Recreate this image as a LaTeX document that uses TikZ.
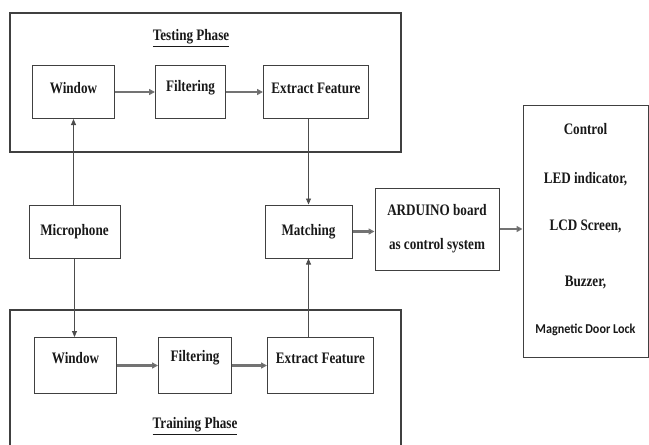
\documentclass[tikz,border=0pt]{standalone}
\usepackage{fontspec}
\newfontfamily\diagfont{Liberation Serif}[FakeStretch=0.82, BoldFont={Liberation Serif Bold}, BoldFeatures={FakeStretch=0.82}]
\newfontfamily\lockfont{Carlito}[FakeStretch=0.9]
\usetikzlibrary{arrows.meta}
\begin{document}
\begin{tikzpicture}[x=1pt,y=-1pt,
  every node/.style={font=\diagfont\bfseries\fontsize{16}{19}\selectfont, text=black!90},
  blk/.style={draw=black!75, line width=1pt, fill=white, inner sep=0pt, align=center},
  phase/.style={draw=black!75, line width=1.3pt},
  flow/.style={draw=black!55, line width=2.2pt, -{Triangle[length=6pt,width=6pt,fill=black!85]}},
  link/.style={draw=black!70, line width=0.8pt, -{Triangle[length=6pt,width=5pt]}},
  lockstyle/.style={font=\lockfont\bfseries\fontsize{13.5}{16}\selectfont}]
\useasboundingbox (0,0) rectangle (649,445);
% phase frames
\draw[phase] (10,13) rectangle (401,152);
\draw[phase] (10,310) rectangle (401,452);
\node (tp) at (191,38) {\underline{Testing Phase}};
\node (trp) at (195,426) {\underline{Training Phase}};
% testing row
\node[blk, minimum width=82pt, minimum height=53pt, anchor=north west] (w1) at (32,65) {};
\node at ([yshift=-23pt]w1.north) {Window};
\node[blk, minimum width=70pt, minimum height=53pt, anchor=north west] (f1) at (155,65) {};
\node at ([yshift=-23pt]f1.north) {Filtering};
\node[blk, minimum width=105pt, minimum height=53pt, anchor=north west] (e1) at (263,65) {};
\node at ([yshift=-23pt]e1.north) {Extract Feature};
% training row
\node[blk, minimum width=82pt, minimum height=56pt, anchor=north west] (w2) at (34,337) {};
\node at ([yshift=-21pt]w2.north) {Window};
\node[blk, minimum width=73pt, minimum height=56pt, anchor=north west] (f2) at (158,337) {};
\node at ([yshift=-21pt]f2.north) {Filtering};
\node[blk, minimum width=106pt, minimum height=56pt, anchor=north west] (e2) at (267,337) {};
\node at ([yshift=-21pt]e2.north) {Extract Feature};
% middle
\node[blk, minimum width=91pt, minimum height=53pt] (mic) at (74.5,231.5) {Microphone};
\node[blk, minimum width=87pt, minimum height=53pt] (mat) at (308.5,231.5) {Matching};
\node[blk, minimum width=124pt, minimum height=82pt] (ard) at (437,229) {ARDUINO board\\[15pt]as control system};
\node[blk, minimum width=125pt, minimum height=252pt] (ctl) at (585.5,231) {};
\node (c0) at ([yshift=-25pt]ctl.north) {Control};
\node (c1) at ([yshift=-75pt]ctl.north) {LED indicator,};
\node (c2) at ([yshift=-122pt]ctl.north) {LCD Screen,};
\node (c3) at ([yshift=-178pt]ctl.north) {Buzzer,};
\node[lockstyle] (c4) at ([yshift=-225pt]ctl.north) {Magnetic Door Lock};
% flows
\draw[flow] (w1.east) -- (f1.west);
\draw[flow] (f1.east) -- (e1.west);
\draw[flow] (w2.east) -- (f2.west);
\draw[flow] (f2.east) -- (e2.west);
\draw[link] (mic.north -| w1.south) -- (w1.south);
\draw[link] (mic.south) -- (mic.south |- w2.north);
\draw[link] (e1.south -| mat.north) -- (mat.north);
\draw[link] (e2.north -| mat.south) -- (mat.south);
\draw[flow] (mat.east) -- (ard.west |- mat.east);
\draw[flow] (ard.east) -- (ctl.west |- ard.east);
\end{tikzpicture}
\end{document}
